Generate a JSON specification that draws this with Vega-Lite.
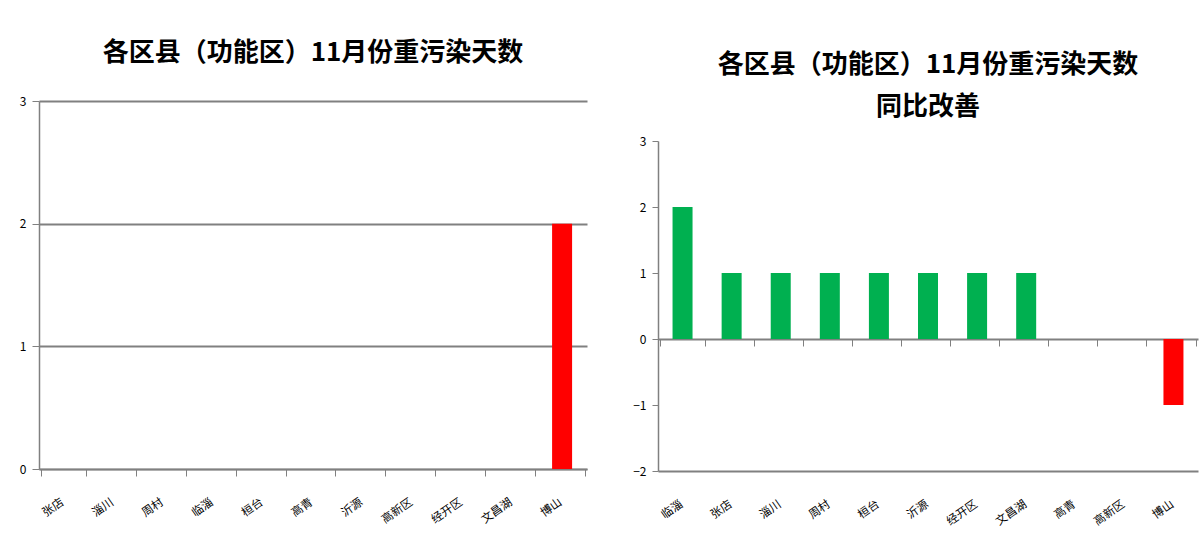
{
  "$schema": "https://vega.github.io/schema/vega-lite/v6.json",
  "background": "white",
  "padding": {"left": 19, "top": 40, "right": 5, "bottom": 5},
  "datasets": {
    "left": [
      {"区县": "张店", "天数": 0},
      {"区县": "淄川", "天数": 0},
      {"区县": "周村", "天数": 0},
      {"区县": "临淄", "天数": 0},
      {"区县": "桓台", "天数": 0},
      {"区县": "高青", "天数": 0},
      {"区县": "沂源", "天数": 0},
      {"区县": "高新区", "天数": 0},
      {"区县": "经开区", "天数": 0},
      {"区县": "文昌湖", "天数": 0},
      {"区县": "博山", "天数": 2}
    ],
    "right": [
      {"区县": "临淄", "改善": 2},
      {"区县": "张店", "改善": 1},
      {"区县": "淄川", "改善": 1},
      {"区县": "周村", "改善": 1},
      {"区县": "桓台", "改善": 1},
      {"区县": "沂源", "改善": 1},
      {"区县": "经开区", "改善": 1},
      {"区县": "文昌湖", "改善": 1},
      {"区县": "高青", "改善": 0},
      {"区县": "高新区", "改善": 0},
      {"区县": "博山", "改善": -1}
    ]
  },
  "config": {
    "font": "Noto Sans CJK SC",
    "view": {"stroke": null},
    "concat": {"spacing": 45},
    "title": {"fontSize": 26, "fontWeight": "bold", "color": "#000000", "anchor": "middle", "font": "Noto Sans CJK SC"},
    "axis": {
      "labelFont": "Noto Sans CJK SC",
      "labelFontSize": 12,
      "labelColor": "#000000",
      "domainColor": "#808080",
      "tickColor": "#808080",
      "title": null
    }
  },
  "hconcat": [
    {
      "width": 548,
      "height": 368,
      "title": {"text": "各区县（功能区）11月份重污染天数", "offset": 29},
      "data": {"name": "left"},
      "mark": {"type": "bar", "color": "#FF0000", "size": 20},
      "encoding": {
        "x": {
          "field": "区县",
          "type": "nominal",
          "sort": null,
          "axis": {
            "labelAngle": -35,
            "labelPadding": 20,
            "labelOffset": -5,
            "labelFontSize": 11.5,
            "tickBand": "extent",
            "tickSize": 7,
            "domainWidth": 1.5
          }
        },
        "y": {
          "field": "天数",
          "type": "quantitative",
          "scale": {"domain": [0, 3], "nice": false},
          "axis": {
            "values": [0, 1, 2, 3],
            "format": "d",
            "grid": true,
            "gridColor": "#808080",
            "gridWidth": 2,
            "tickSize": 7,
            "labelPadding": 6,
            "domainWidth": 1.5
          }
        }
      }
    },
    {
      "width": 540,
      "height": 370,
      "title": {"text": ["各区县（功能区）11月份重污染天数", "同比改善"], "offset": -19, "lineHeight": 42},
      "data": {"name": "right"},
      "resolve": {"axis": {"x": "independent"}},
      "layer": [
        {
          "mark": {"type": "bar", "size": 20},
          "encoding": {
            "x": {
              "field": "区县",
              "type": "nominal",
              "sort": null,
              "axis": {
                "orient": "bottom",
                "labelAngle": -35,
                "labelPadding": 27,
                "labelOffset": -4,
                "labelFontSize": 11.5,
                "ticks": false,
                "domainWidth": 2
              }
            },
            "y": {
              "field": "改善",
              "type": "quantitative",
              "scale": {"domain": [-2, 3], "nice": false, "range": [370, 40]},
              "axis": {
                "values": [-2, -1, 0, 1, 2, 3],
                "format": "d",
                "grid": false,
                "tickSize": 6,
                "labelPadding": 6,
                "domainWidth": 1.5
              }
            },
            "color": {
              "condition": {"test": "datum['改善'] < 0", "value": "#FF0000"},
              "value": "#00B050"
            }
          }
        },
        {
          "mark": {"type": "bar", "size": 20, "opacity": 0},
          "encoding": {
            "x": {
              "field": "区县",
              "type": "nominal",
              "sort": null,
              "axis": {
                "orient": "bottom",
                "offset": -132,
                "labels": false,
                "tickBand": "extent",
                "tickSize": 7,
                "domainWidth": 2
              }
            },
            "y": {"field": "改善", "type": "quantitative"}
          }
        }
      ]
    }
  ]
}
